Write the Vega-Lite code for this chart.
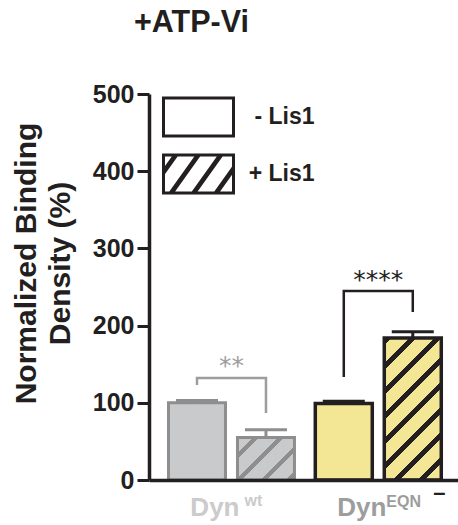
{
  "$schema": "https://vega.github.io/schema/vega-lite/v6.json",
  "width": 309,
  "height": 386,
  "autosize": {"type": "none"},
  "padding": {"left": 149, "top": 94, "right": 0, "bottom": 45},
  "background": "white",
  "title": {"text": "+ATP-Vi", "anchor": "start", "frame": "group", "dx": -15, "offset": 20, "fontSize": 30.5, "fontWeight": "bold", "font": "Liberation Sans", "color": "#231f20", "baseline": "alphabetic"},
  "config": {
    "view": {"stroke": null},
    "font": "Liberation Sans",
    "axisY": {
      "grid": false,
      "domainColor": "#231f20", "domainWidth": 3.5, "tickColor": "#231f20", "tickWidth": 3, "tickSize": 12,
      "labelFont": "Liberation Sans", "labelFontSize": 25, "labelFontWeight": "bold", "labelColor": "#231f20", "labelPadding": 3,
      "titleFont": "Liberation Sans", "titleFontSize": 30, "titleFontWeight": "bold", "titleColor": "#231f20",
      "titleLineHeight": 34, "titleAngle": 270, "titleAlign": "center", "titleBaseline": "alphabetic",
      "titleX": -114, "titleY": 169
    }
  },
  "datasets": {
    "bars": [
      {"cond": "wt", "lis1": "- Lis1", "mean": 100, "upper": 103},
      {"cond": "wt", "lis1": "+ Lis1", "mean": 55, "upper": 65},
      {"cond": "EQN", "lis1": "- Lis1", "mean": 99, "upper": 102},
      {"cond": "EQN", "lis1": "+ Lis1", "mean": 184, "upper": 192}
    ],
    "brackets": [
      {"cond": "wt", "lis1": "- Lis1", "y": 123, "o": 1},
      {"cond": "wt", "lis1": "- Lis1", "y": 132.1, "o": 2},
      {"cond": "wt", "lis1": "+ Lis1", "y": 132.1, "o": 3},
      {"cond": "wt", "lis1": "+ Lis1", "y": 86.8, "o": 4},
      {"cond": "EQN", "lis1": "- Lis1", "y": 133.4, "o": 1},
      {"cond": "EQN", "lis1": "- Lis1", "y": 244.8, "o": 2},
      {"cond": "EQN", "lis1": "+ Lis1", "y": 244.8, "o": 3},
      {"cond": "EQN", "lis1": "+ Lis1", "y": 217.6, "o": 4}
    ],
    "stars": [
      {"cond": "wt", "y": 137, "label": "**"},
      {"cond": "EQN", "y": 248.5, "label": "****"}
    ],
    "groups": [
      {"cond": "wt", "sup": "wt"},
      {"cond": "EQN", "sup": "EQN"}
    ]
  },
  "encoding": {
    "x": {
      "field": "cond", "type": "nominal",
      "scale": {"domain": ["wt", "EQN"], "paddingInner": 0.1, "paddingOuter": 0.1025, "align": 0.546},
      "axis": {
        "title": null, "ticks": false, "tickSize": 0, "domainColor": "#231f20", "domainWidth": 3.5,
        "labelExpr": "'Dyn'", "labelAlign": "right", "labelOffset": 8, "labelBaseline": "alphabetic", "labelPadding": 35,
        "labelAngle": 0, "labelFont": "Liberation Sans", "labelFontSize": 26, "labelFontWeight": "bold",
        "labelColor": {"condition": {"test": "datum.value == 'wt'", "value": "#cbcbcb"}, "value": "#9d9d9d"},
        "zindex": 1
      }
    }
  },
  "layer": [
    {
      "data": {"name": "bars"},
      "transform": [{"filter": "datum.lis1 == '- Lis1'"}],
      "mark": {"type": "bar"},
      "encoding": {
        "xOffset": {"field": "lis1", "type": "nominal", "scale": {"domain": ["- Lis1", "+ Lis1"], "paddingInner": 0.174, "paddingOuter": 0.0445}},
        "y": {"field": "mean", "type": "quantitative", "scale": {"domain": [0, 500], "nice": false}, "title": ["Normalized Binding", "Density (%)"], "axis": {"values": [0, 100, 200, 300, 400, 500]}},
        "fill": {"condition": {"test": "datum.cond == 'wt'", "value": "#c9cacb"}, "value": "#f3e796"},
        "stroke": {"condition": {"test": "datum.cond == 'wt'", "value": "#8e8e8e"}, "value": "#231f20"},
        "strokeWidth": {"condition": {"test": "datum.cond == 'wt'", "value": 3}, "value": 3.5}
      }
    },
    {
      "data": {"name": "bars"},
      "transform": [{"filter": "datum.lis1 == '+ Lis1' && datum.cond == 'wt'"}],
      "mark": {
        "type": "bar", "stroke": "#8e8e8e", "strokeWidth": 3,
        "fill": {"gradient": "linear", "x1": 0, "y1": 0, "x2": 1.1218, "y2": 0.8364, "stops": [
          {"offset": 0, "color": "#c9cacb"}, {"offset": 0.1527, "color": "#c9cacb"},
          {"offset": 0.1527, "color": "#8e8e8e"}, {"offset": 0.2167, "color": "#8e8e8e"},
          {"offset": 0.2167, "color": "#c9cacb"}, {"offset": 0.4041, "color": "#c9cacb"},
          {"offset": 0.4041, "color": "#8e8e8e"}, {"offset": 0.4681, "color": "#8e8e8e"},
          {"offset": 0.4681, "color": "#c9cacb"}, {"offset": 0.6555, "color": "#c9cacb"},
          {"offset": 0.6555, "color": "#8e8e8e"}, {"offset": 0.7195, "color": "#8e8e8e"},
          {"offset": 0.7195, "color": "#c9cacb"}, {"offset": 0.9069, "color": "#c9cacb"},
          {"offset": 0.9069, "color": "#8e8e8e"}, {"offset": 0.9709, "color": "#8e8e8e"},
          {"offset": 0.9709, "color": "#c9cacb"}, {"offset": 1, "color": "#c9cacb"}
        ]}
      },
      "encoding": {
        "xOffset": {"field": "lis1", "type": "nominal"},
        "y": {"field": "mean", "type": "quantitative", "title": ["Normalized Binding", "Density (%)"]}
      }
    },
    {
      "data": {"name": "bars"},
      "transform": [{"filter": "datum.lis1 == '+ Lis1' && datum.cond == 'EQN'"}],
      "mark": {
        "type": "bar", "stroke": "#231f20", "strokeWidth": 3.5,
        "fill": {"gradient": "linear", "x1": 0, "y1": 0, "x2": 0.4845, "y2": 1.207, "stops": [
          {"offset": 0, "color": "#231f20"}, {"offset": 0.0345, "color": "#231f20"},
          {"offset": 0.0345, "color": "#f3e796"}, {"offset": 0.1269, "color": "#f3e796"},
          {"offset": 0.1269, "color": "#231f20"}, {"offset": 0.1603, "color": "#231f20"},
          {"offset": 0.1603, "color": "#f3e796"}, {"offset": 0.2527, "color": "#f3e796"},
          {"offset": 0.2527, "color": "#231f20"}, {"offset": 0.2861, "color": "#231f20"},
          {"offset": 0.2861, "color": "#f3e796"}, {"offset": 0.3785, "color": "#f3e796"},
          {"offset": 0.3785, "color": "#231f20"}, {"offset": 0.4119, "color": "#231f20"},
          {"offset": 0.4119, "color": "#f3e796"}, {"offset": 0.5043, "color": "#f3e796"},
          {"offset": 0.5043, "color": "#231f20"}, {"offset": 0.5377, "color": "#231f20"},
          {"offset": 0.5377, "color": "#f3e796"}, {"offset": 0.6301, "color": "#f3e796"},
          {"offset": 0.6301, "color": "#231f20"}, {"offset": 0.6635, "color": "#231f20"},
          {"offset": 0.6635, "color": "#f3e796"}, {"offset": 0.7559, "color": "#f3e796"},
          {"offset": 0.7559, "color": "#231f20"}, {"offset": 0.7893, "color": "#231f20"},
          {"offset": 0.7893, "color": "#f3e796"}, {"offset": 0.8817, "color": "#f3e796"},
          {"offset": 0.8817, "color": "#231f20"}, {"offset": 0.9151, "color": "#231f20"},
          {"offset": 0.9151, "color": "#f3e796"}, {"offset": 1, "color": "#f3e796"}
        ]}
      },
      "encoding": {
        "xOffset": {"field": "lis1", "type": "nominal"},
        "y": {"field": "mean", "type": "quantitative", "title": ["Normalized Binding", "Density (%)"]}
      }
    },
    {
      "data": {"name": "bars"},
      "mark": {"type": "rule", "strokeWidth": 3},
      "encoding": {
        "xOffset": {"field": "lis1", "type": "nominal"},
        "y": {"field": "mean", "type": "quantitative", "title": ["Normalized Binding", "Density (%)"]},
        "y2": {"field": "upper"},
        "color": {"condition": {"test": "datum.cond == 'wt'", "value": "#8e8e8e"}, "value": "#231f20"}
      }
    },
    {
      "data": {"name": "bars"},
      "mark": {"type": "tick", "orient": "horizontal", "size": 42, "thickness": 3, "opacity": 1},
      "encoding": {
        "xOffset": {"field": "lis1", "type": "nominal"},
        "y": {"field": "upper", "type": "quantitative", "title": ["Normalized Binding", "Density (%)"]},
        "color": {"condition": {"test": "datum.cond == 'wt'", "value": "#8e8e8e"}, "value": "#231f20"}
      }
    },
    {
      "data": {"name": "brackets"},
      "mark": {"type": "line", "strokeWidth": 2.5, "strokeCap": "butt", "strokeJoin": "miter"},
      "encoding": {
        "xOffset": {"field": "lis1", "type": "nominal"},
        "y": {"field": "y", "type": "quantitative", "title": ["Normalized Binding", "Density (%)"]},
        "order": {"field": "o", "type": "quantitative"},
        "detail": {"field": "cond", "type": "nominal"},
        "stroke": {"condition": {"test": "datum.cond == 'wt'", "value": "#9d9d9d"}, "value": "#231f20"}
      }
    },
    {
      "data": {"name": "stars"},
      "mark": {"type": "text", "font": "DejaVu Sans", "fontSize": 25, "baseline": "alphabetic", "align": "center"},
      "encoding": {
        "y": {"field": "y", "type": "quantitative", "title": ["Normalized Binding", "Density (%)"]},
        "text": {"field": "label"},
        "color": {"condition": {"test": "datum.cond == 'wt'", "value": "#9d9d9d"}, "value": "#231f20"}
      }
    },
    {
      "data": {"name": "groups"},
      "transform": [{"filter": "datum.cond == 'wt'"}],
      "mark": {"type": "text", "font": "Liberation Sans", "fontSize": 16, "fontWeight": "bold", "baseline": "alphabetic", "align": "left", "dx": 13, "dy": 26, "color": "#cbcbcb"},
      "encoding": {
        "y": {"datum": 0, "type": "quantitative", "title": ["Normalized Binding", "Density (%)"]},
        "text": {"field": "sup"}
      }
    },
    {
      "data": {"name": "groups"},
      "transform": [{"filter": "datum.cond == 'EQN'"}],
      "mark": {"type": "text", "font": "Liberation Sans", "fontSize": 16, "fontWeight": "bold", "baseline": "alphabetic", "align": "left", "dx": 8, "dy": 27, "color": "#9d9d9d"},
      "encoding": {
        "y": {"datum": 0, "type": "quantitative", "title": ["Normalized Binding", "Density (%)"]},
        "text": {"field": "sup"}
      }
    },
    {
      "data": {"name": "groups"},
      "transform": [{"filter": "datum.cond == 'EQN'"}],
      "mark": {"type": "text", "font": "Liberation Sans", "fontSize": 22, "fontWeight": "bold", "baseline": "alphabetic", "align": "left", "dx": 55, "dy": 19.5, "color": "#231f20", "text": "–"},
      "encoding": {
        "y": {"datum": 0, "type": "quantitative", "title": ["Normalized Binding", "Density (%)"]}
      }
    },
    {
      "data": {"name": "bars"},
      "mark": {"type": "point", "filled": false, "color": "#231f20", "stroke": "#231f20", "strokeWidth": 3, "opacity": 1, "clip": true},
      "encoding": {
        "xOffset": {"field": "lis1", "type": "nominal"},
        "y": {"datum": -1000, "type": "quantitative", "title": ["Normalized Binding", "Density (%)"]},
        "shape": {
          "field": "lis1", "type": "nominal",
          "scale": {"domain": ["- Lis1", "+ Lis1"], "range": [
            "M-1.7073,-0.9271H1.7073V0.9271H-1.7073Z",
            "M-1.7073,-0.9271H1.7073V0.9271H-1.7073ZM-1.7073,-0.1588L-1.1558,-0.9271M-1.7073,-0.0171L-1.0534,-0.9271M-1.3897,0.9271L-0.058,-0.9271M-1.2873,0.9271L0.0444,-0.9271M-0.2919,0.9271L1.0397,-0.9271M-0.1895,0.9271L1.1422,-0.9271M0.8041,0.9271L1.7073,-0.3295M0.9066,0.9271L1.7073,-0.1878"
          ]},
          "legend": {
            "title": null, "orient": "none", "legendX": 27.5, "legendY": 1, "padding": 0,
            "symbolSize": 1681, "symbolStrokeWidth": 3, "symbolStrokeColor": "#231f20", "symbolOpacity": 1,
            "labelFont": "Liberation Sans", "labelFontSize": 23, "labelFontWeight": "bold", "labelColor": "#231f20",
            "labelAlign": "right", "labelOffset": 94, "labelLimit": 0, "rowPadding": 5
          }
        }
      }
    }
  ]
}
